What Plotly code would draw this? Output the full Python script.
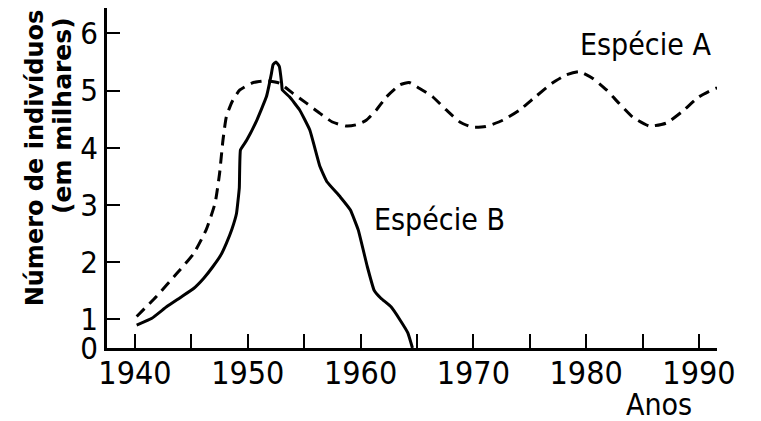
import plotly.graph_objects as go

# Species A (dashed) - year, number of individuals (thousands)
years_a = [1940.15, 1941.9, 1943.7, 1945.2, 1946.3, 1947.1, 1947.5, 1947.8, 1948.1, 1948.6,
           1949.3, 1950.5, 1951.65, 1952.8, 1954.0, 1955.2, 1956.4, 1957.5, 1958.7, 1959.6,
           1960.5, 1961.4, 1962.3, 1963.5, 1964.3, 1965.2, 1966.4, 1967.6, 1968.8, 1969.9,
           1971.1, 1972.6, 1974.1, 1975.5, 1977.0, 1978.2, 1979.4, 1980.6, 1981.8, 1982.9,
           1984.1, 1985.6, 1987.1, 1988.5, 1990.0, 1991.5, 1991.8]
values_a = [1.05, 1.40, 1.80, 2.15, 2.56, 3.03, 3.55, 4.13, 4.54, 4.80,
            5.01, 5.14, 5.17, 5.13, 4.95, 4.78, 4.60, 4.45, 4.38, 4.40,
            4.48, 4.66, 4.89, 5.10, 5.14, 5.04, 4.89, 4.66, 4.45, 4.36,
            4.37, 4.48, 4.66, 4.89, 5.13, 5.27, 5.33, 5.21, 5.01, 4.78,
            4.54, 4.38, 4.43, 4.63, 4.89, 5.04, 5.04]

# Species B (solid)
years_b = [1940.15, 1941.5, 1942.8, 1944.0, 1945.2, 1946.1, 1946.9, 1947.6, 1948.1, 1948.6,
           1949.0, 1949.25, 1949.35, 1949.9, 1950.8,
           1951.65, 1952.1, 1952.24, 1952.5, 1952.8, 1953.0, 1953.06, 1953.7, 1954.6, 1955.5,
           1956.4, 1957.0, 1958.2, 1959.1, 1959.8, 1960.6, 1961.2, 1961.8, 1962.7, 1963.5,
           1964.2, 1964.6]
values_b = [0.80, 1.02, 1.22, 1.38, 1.54, 1.72, 1.92, 2.12, 2.33, 2.58,
            2.85, 3.30, 3.96, 4.13, 4.48,
            4.89, 5.30, 5.45, 5.50, 5.42, 5.13, 5.01, 4.89, 4.66, 4.31,
            3.67, 3.41, 3.14, 2.91, 2.56, 1.92, 1.51, 1.37, 1.22, 0.98,
            0.52, 0.0]

x_tick_vals = [1940, 1950, 1960, 1970, 1980, 1990]
x_tick_text = ["1940", "1950", "1960", "1970", "1980", "1990"]
y_tick_vals = [0, 1, 2, 3, 4, 5, 6]
y_tick_text = ["0", "1", "2", "3", "4", "5", "6"]

label_a = "Espécie A"
label_b = "Espécie B"
x_title = "Anos"
y_title_1 = "<b>Número de indivíduos</b>"
y_title_2 = "<b>(em milhares)</b>"


def y_scale(v):
    # The original axis draws the 0-1 interval at half the size of the others
    return v if v >= 1 else 0.5 + 0.5 * v


FONT = "Liberation Sans Narrow, Arial Narrow, DejaVu Sans Condensed, sans-serif"
BOLD = "DejaVu Sans, sans-serif"

fig = go.Figure()
fig.add_trace(go.Scatter(x=years_a, y=[y_scale(v) for v in values_a], mode="lines",
                         line=dict(color="black", width=3, dash="11px,7px", shape="spline", smoothing=0.5),
                         showlegend=False, hoverinfo="skip"))
fig.add_trace(go.Scatter(x=years_b, y=[y_scale(v) for v in values_b], mode="lines",
                         line=dict(color="black", width=3, shape="spline", smoothing=0.3),
                         showlegend=False, hoverinfo="skip"))

fig.add_annotation(x=1985.3, y=5.8, xref="x", yref="y", text=label_a, showarrow=False,
                   font=dict(family=FONT, size=30, color="black"))
fig.add_annotation(x=1967.0, y=2.75, xref="x", yref="y", text=label_b, showarrow=False,
                   font=dict(family=FONT, size=30, color="black"))
fig.add_annotation(x=1986.5, y=-0.165, xref="x", yref="paper", text=x_title, showarrow=False,
                   yanchor="middle", xanchor="center",
                   font=dict(family=FONT, size=30, color="black"))
fig.add_annotation(x=-0.118, y=0.558, xref="paper", yref="paper", text=y_title_1, showarrow=False,
                   textangle=-90, font=dict(family=BOLD, size=24, color="black"),
                   xanchor="center", yanchor="middle")
fig.add_annotation(x=-0.074, y=0.685, xref="paper", yref="paper", text=y_title_2, showarrow=False,
                   textangle=-90, font=dict(family=BOLD, size=25, color="black"),
                   xanchor="center", yanchor="middle")

# The page adds an 8px body margin, so margins are shifted to compensate
fig.update_layout(
    width=761, height=421,
    margin=dict(l=99, r=52, t=0, b=81, autoexpand=False),
    paper_bgcolor="white", plot_bgcolor="white",
    xaxis=dict(range=[1937.52, 1991.6], tickvals=x_tick_vals, ticktext=x_tick_text,
               ticks="inside", ticklen=14, tickwidth=2, tickcolor="black",
               minor=dict(dtick=5, tick0=1940, ticks="inside", ticklen=14, tickwidth=2, tickcolor="black"),
               showline=True, linecolor="black", linewidth=2.5, showgrid=False, zeroline=False,
               automargin=False, ticklabelstandoff=-5,
               tickfont=dict(family=FONT, size=32, color="black")),
    yaxis=dict(range=[0.5, 6.442], tickvals=[y_scale(v) for v in y_tick_vals], ticktext=y_tick_text,
               ticks="inside", ticklen=13, tickwidth=2, tickcolor="black",
               showline=True, linecolor="black", linewidth=2.5, showgrid=False, zeroline=False,
               automargin=False,
               tickfont=dict(family=FONT, size=31, color="black")),
)

fig.write_html("out.html")
